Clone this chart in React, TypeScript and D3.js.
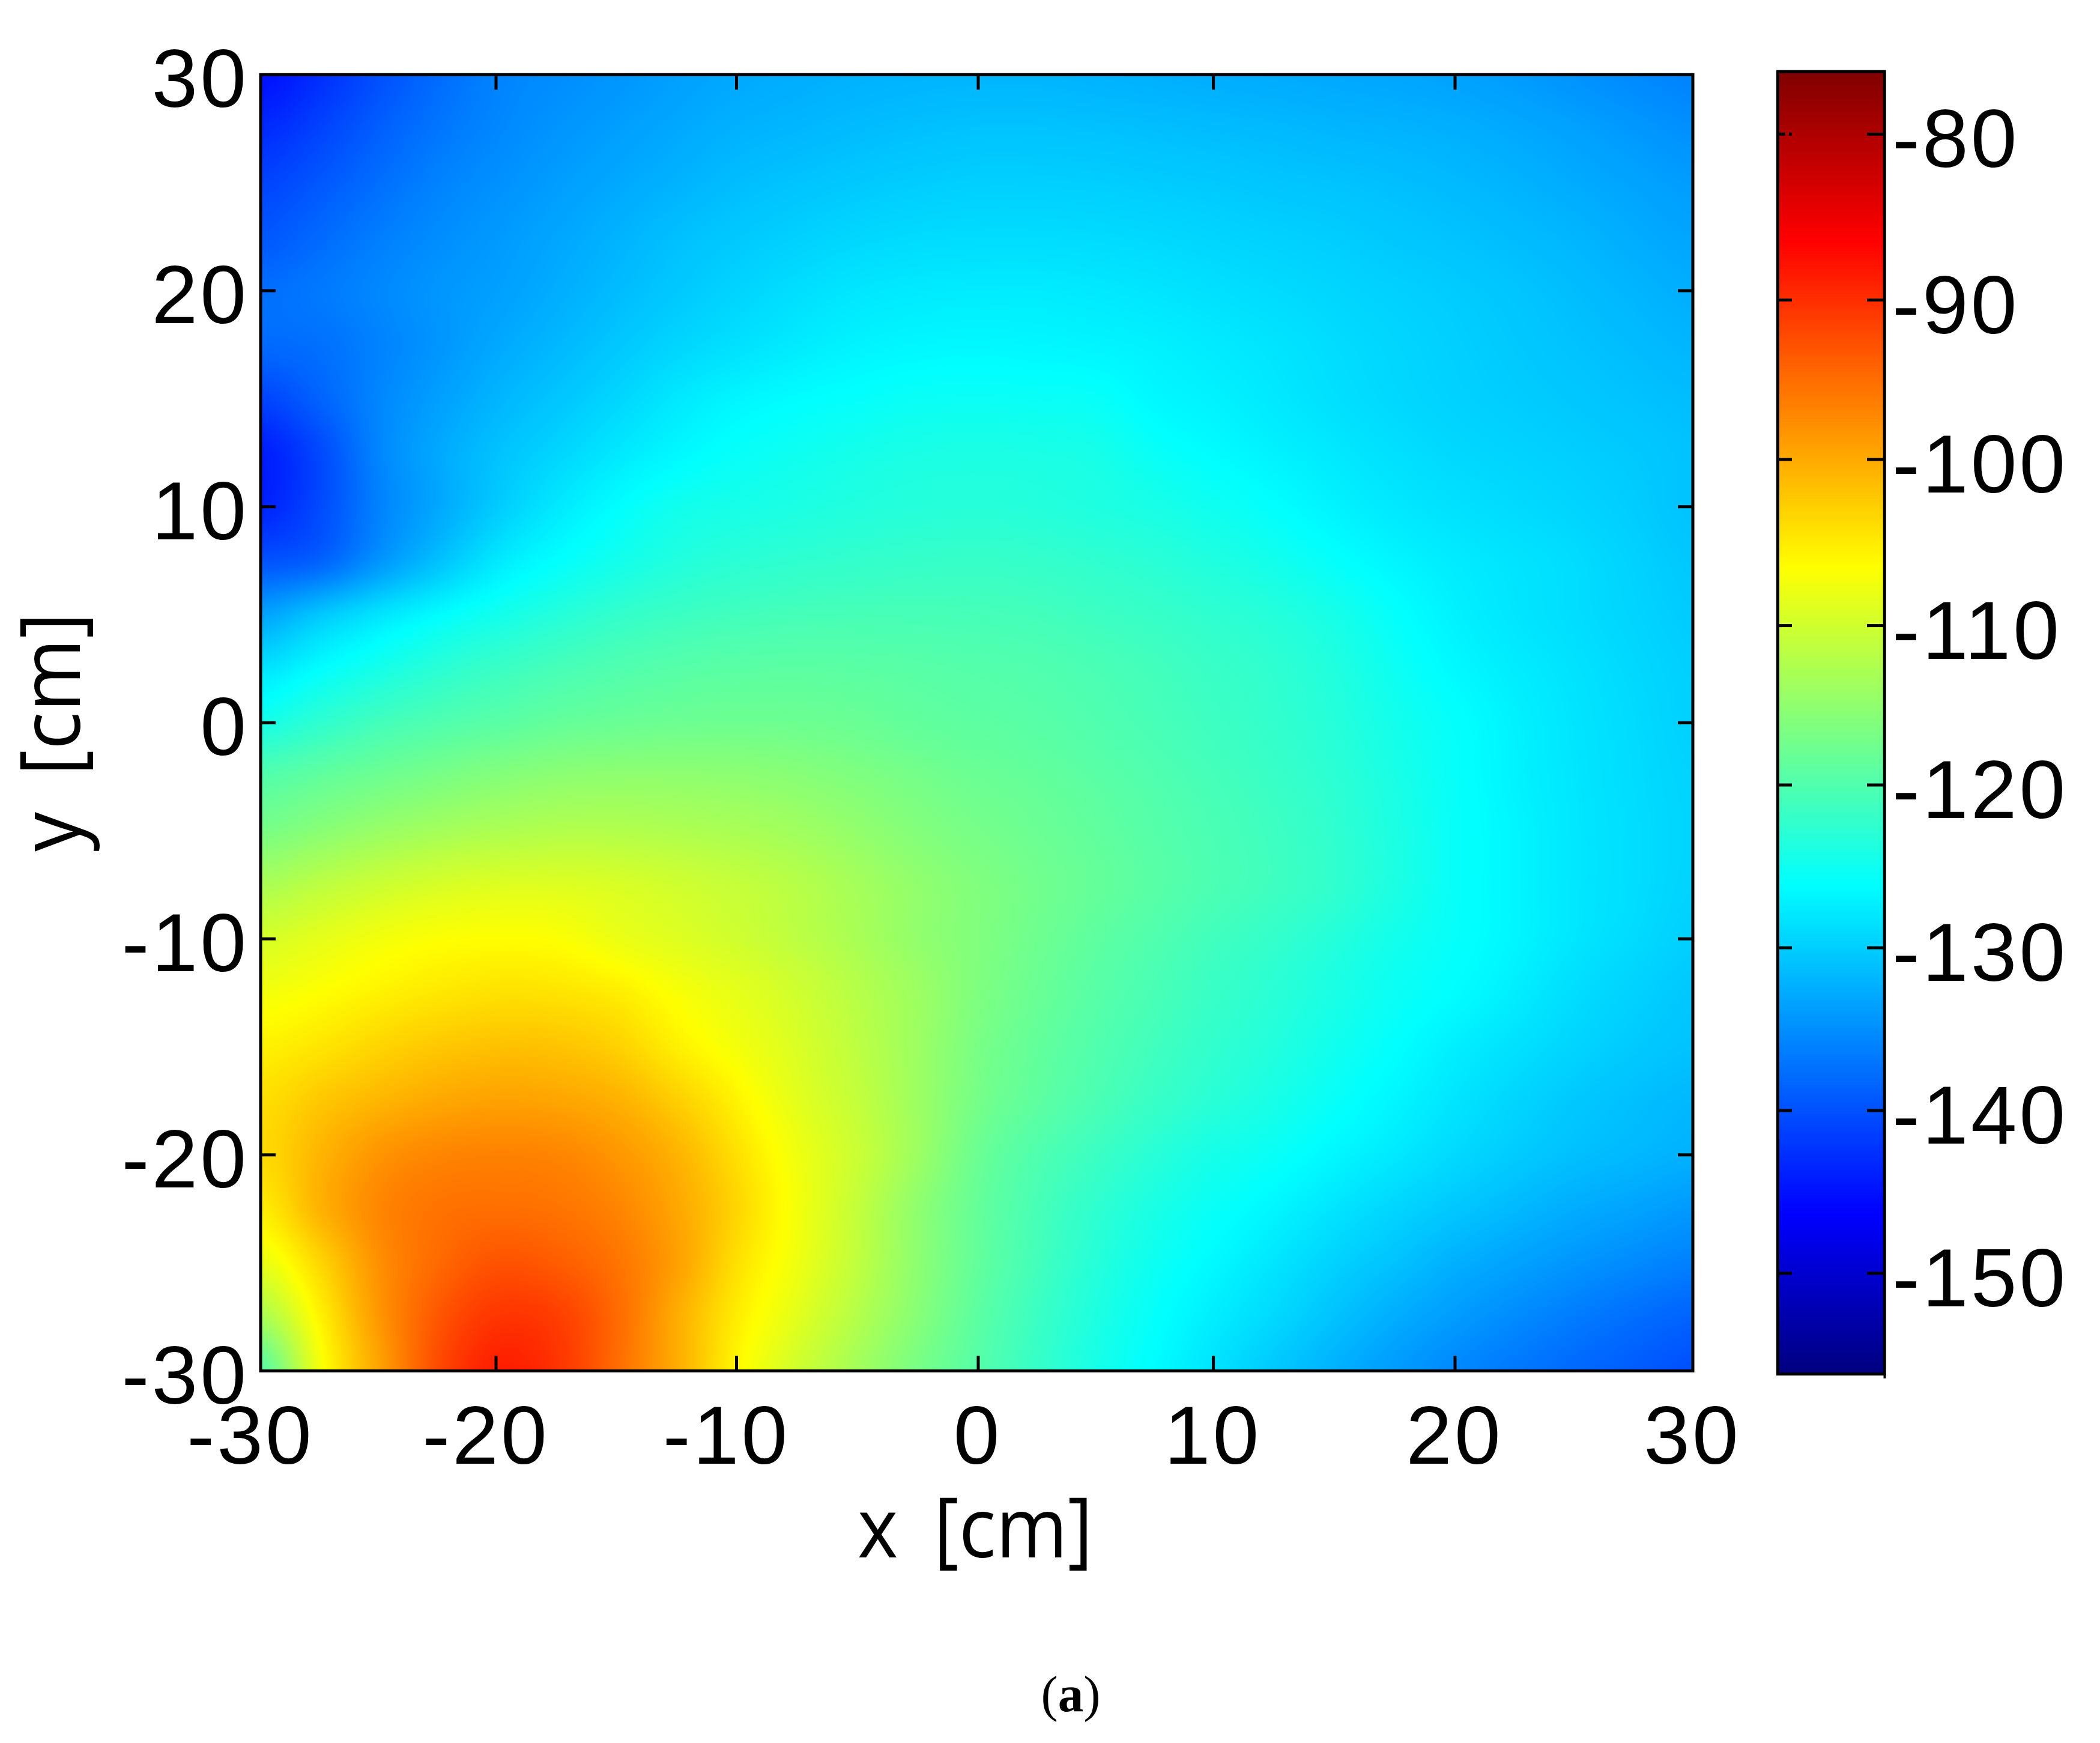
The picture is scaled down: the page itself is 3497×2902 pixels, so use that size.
import { useMemo } from "react"
import * as d3 from "d3"

const W = 3497
const H = 2902

// plot frame
const PLOT = { left: 434, right: 2819, top: 124.3, bottom: 2282.5 }

const xTicks = [-30, -20, -10, 0, 10, 20, 30]
const yTicks = [30, 20, 10, 0, -10, -20, -30]
const barTicks = [-80, -90, -100, -110, -120, -130, -140, -150]

// the source image has uneven pixel rows, so the ticks are not perfectly regular
const xTickPx = [434, 826, 1226.5, 1629, 2020.6, 2423, 2819]
const barTickPx = [223.3, 499.5, 765, 1041.6, 1307, 1578, 1849, 2120]

// jet colormap stops, in dB
const jetStops = [-156.3, -146.3, -126.3, -106.3, -86.3, -76.3]
const jetColors = ["#000080", "#0000ff", "#00ffff", "#ffff00", "#ff0000", "#800000"]
const jetBarPx = [2285, 2020, 1472, 944, 400, 121]

// field, every 2.5 cm. Rows y = 30 .. -30, columns x = -30 .. 30
const field: number[][] = [
  [-145, -142.6, -140, -137.8, -136, -135.2, -134.5, -133.7, -133, -132.6, -132.3, -132.1, -132, -132, -132.2, -132.4, -132.6, -132.8, -133, -133.2, -133.5, -134, -134.7, -135.4, -136],
  [-143, -141, -138.8, -137, -135.6, -134.6, -133.8, -133, -132.3, -131.9, -131.5, -131.2, -131, -131, -131.1, -131.3, -131.5, -131.7, -132, -132.2, -132.5, -133, -133.6, -134.3, -135],
  [-141, -139.4, -137.6, -136, -134.9, -133.9, -133, -132.2, -131.4, -130.9, -130.5, -130.2, -130, -130, -130.1, -130.3, -130.5, -130.8, -131, -131.3, -131.7, -132.2, -132.8, -133.4, -134],
  [-139.5, -138, -136.4, -135.2, -134.2, -133.2, -132.2, -131.2, -130.5, -129.9, -129.4, -129.1, -129, -129, -129.1, -129.3, -129.6, -129.9, -130.2, -130.6, -131, -131.5, -132, -132.7, -133.3],
  [-137.7, -136.8, -135.6, -134.5, -133.7, -132.6, -131.5, -130.5, -129.6, -128.8, -128.2, -127.9, -127.8, -127.8, -128, -128.3, -128.7, -129.1, -129.5, -129.9, -130.3, -130.8, -131.4, -132, -132.6],
  [-138, -137.5, -136, -134.5, -133, -131.8, -130.6, -129.5, -128.6, -127.8, -127.2, -126.9, -126.8, -126.9, -127.1, -127.4, -127.9, -128.4, -129, -129.5, -130, -130.5, -131, -131.5, -132],
  [-141, -138.5, -135.7, -133.7, -132, -130.7, -129.4, -128, -127, -126.4, -126, -125.6, -125.5, -125.6, -125.8, -126.8, -127.3, -128, -128.7, -129.3, -129.8, -130.2, -130.6, -131, -131.4],
  [-144, -140.5, -135.7, -133, -131, -129.5, -128, -126.8, -125.8, -125.2, -124.7, -124.3, -124.2, -124.3, -124.6, -125.7, -126.5, -127.3, -128, -128.7, -129.3, -129.7, -130.1, -130.5, -131],
  [-143.5, -140.4, -136, -133, -130.2, -127.9, -126.3, -125, -124.5, -124.1, -123.7, -123.4, -123.3, -123.5, -123.9, -124.4, -125.2, -126.2, -127.2, -128, -128.6, -129.1, -129.6, -130.2, -131],
  [-139.8, -138.5, -134.5, -131, -127.9, -126.1, -124.8, -123.7, -123, -122.6, -122.3, -122.1, -122, -122.2, -122.6, -123.1, -123.9, -124.9, -126, -127, -127.8, -128.4, -129, -129.8, -130.6],
  [-133.5, -130.6, -128.3, -126.4, -124.8, -123.4, -122.3, -121.6, -121.1, -120.8, -120.7, -120.7, -120.8, -121, -121.5, -122, -122.7, -123.5, -124.6, -126, -127.3, -128.2, -128.9, -129.6, -130.3],
  [-128.5, -126.3, -124.6, -123, -121.7, -120.7, -120, -119.5, -119.2, -119.1, -119.2, -119.4, -119.7, -120, -120.5, -121.1, -121.9, -122.7, -123.8, -125.3, -126.7, -127.7, -128.5, -129.3, -130],
  [-124.5, -122.6, -121, -120, -119.2, -118.4, -118, -117.7, -117.6, -117.7, -118, -118.6, -119, -119.4, -120, -120.7, -121.5, -122.4, -123.4, -124.8, -126, -127.3, -128.3, -129.1, -129.9],
  [-119.8, -118.6, -117.6, -116.7, -115.8, -115.2, -115, -115, -115.2, -115.6, -116.3, -117.1, -117.9, -118.5, -119.2, -120, -120.9, -121.9, -122.9, -124.3, -125.8, -127.2, -128.2, -129, -129.7],
  [-116.8, -115.5, -114.3, -113.4, -112.7, -112.3, -112.3, -112.6, -113, -113.7, -114.8, -116, -117, -117.9, -118.7, -119.6, -120.5, -121.5, -122.6, -124.1, -125.7, -127, -128.1, -128.9, -129.6],
  [-113, -111.5, -110.3, -109.4, -108.9, -108.9, -109.3, -110, -110.9, -112, -113.4, -114.9, -116.2, -117.4, -118.4, -119.4, -120.4, -121.4, -122.5, -124.1, -125.7, -127, -128.1, -128.9, -129.7],
  [-109.5, -108.3, -107.2, -106.5, -106.3, -106.5, -107.8, -108.8, -110, -111.5, -113, -114.8, -116.2, -117.6, -118.9, -120, -121.2, -122.3, -123.5, -124.8, -125.9, -127, -128.2, -129.1, -130],
  [-107.2, -106.3, -105.3, -104.5, -104, -104.2, -105, -106.8, -108.3, -110, -112, -114, -116.3, -118, -119.4, -120.6, -121.9, -123.1, -124.3, -125.5, -126.4, -127.6, -128.9, -129.8, -130.6],
  [-105.3, -104.3, -103, -102, -101.5, -101.7, -102.8, -105.2, -107.2, -109.2, -111.5, -114, -116.7, -118.5, -119.9, -121.2, -122.5, -123.7, -125, -126.2, -127.5, -128.6, -129.6, -130.4, -131],
  [-103.8, -102, -100.6, -99.5, -99, -99.3, -100.3, -102.6, -105.5, -108.5, -111, -114, -117, -118.9, -120.4, -121.9, -123.2, -124.5, -125.8, -127, -128.3, -129.5, -130.5, -131.2, -131.8],
  [-103.5, -100.5, -98, -96.8, -96.5, -96.8, -98.2, -100.5, -104, -107.5, -110.5, -114, -117.8, -120, -121.6, -123.2, -124.6, -125.7, -126.9, -128, -129.2, -130.3, -131.2, -131.8, -132.4],
  [-105, -100.3, -96.8, -95.3, -95, -95.4, -96.8, -99.5, -103.2, -107.2, -111, -115, -118.3, -120.6, -122.6, -124.3, -125.7, -127, -128.3, -129.5, -130.6, -131.7, -132.7, -133.4, -134.2],
  [-108, -103, -97.5, -94.5, -92.8, -93.6, -95.5, -99, -104, -107.6, -111.3, -115.2, -118.5, -121, -123.4, -125.3, -126.8, -128.3, -129.8, -131, -132.4, -133.5, -134.5, -135.4, -136.2],
  [-113, -105.3, -98, -93, -90.5, -91.3, -94.8, -100, -105, -108.6, -112.2, -115.7, -119, -121.6, -124, -126, -127.7, -129.3, -131, -132.6, -134, -135.3, -136.5, -137.6, -138.5],
  [-119.3, -107, -99, -92, -88.7, -90.5, -95, -100, -105.8, -110, -113.5, -116.8, -119.5, -122, -124.5, -126.5, -128.5, -130.5, -132.3, -134, -135.5, -136.8, -138, -139, -140],
]

const x = d3.scaleLinear().domain(xTicks).range(xTickPx)
const y = d3.scaleLinear().domain([30, -30]).range([PLOT.top, PLOT.bottom])
const barY = d3.scaleLinear().domain(barTicks).range(barTickPx)
const jet = d3.scaleLinear<string>().domain(jetStops).range(jetColors).clamp(true)
const jetY = d3.scaleLinear().domain(jetStops).range(jetBarPx)

const TICK_FONT = "'Liberation Sans', Arial, sans-serif"
const LABEL_FONT = "'Open Sans', sans-serif"

function catmull(a: number, b: number, c: number, d: number, t: number) {
  return 0.5 * (2 * b + (c - a) * t + (2 * a - 5 * b + 4 * c - d) * t * t + (3 * b - a - 3 * c + d) * t * t * t)
}

// interp shading: sample the value grid smoothly, then colour through the jet scale
function renderField(): string {
  const w = 1193
  const h = 1080
  const canvas = document.createElement("canvas")
  canvas.width = w
  canvas.height = h
  const ctx = canvas.getContext("2d")!
  const img = ctx.createImageData(w, h)

  const lo = jetStops[0]
  const hi = jetStops[jetStops.length - 1]
  const lut = d3.range(2048).map((i) => d3.rgb(jet(lo + ((hi - lo) * i) / 2047)))

  const rows = field.length
  const cols = field[0].length
  const at = (r: number, c: number) =>
    field[Math.max(0, Math.min(rows - 1, r))][Math.max(0, Math.min(cols - 1, c))]

  for (let py = 0; py < h; py++) {
    const fy = (py / (h - 1)) * (rows - 1)
    const r = Math.min(Math.floor(fy), rows - 2)
    const ty = fy - r
    for (let px = 0; px < w; px++) {
      const fx = (px / (w - 1)) * (cols - 1)
      const c = Math.min(Math.floor(fx), cols - 2)
      const tx = fx - c
      const v = catmull(
        catmull(at(r - 1, c - 1), at(r - 1, c), at(r - 1, c + 1), at(r - 1, c + 2), tx),
        catmull(at(r, c - 1), at(r, c), at(r, c + 1), at(r, c + 2), tx),
        catmull(at(r + 1, c - 1), at(r + 1, c), at(r + 1, c + 1), at(r + 1, c + 2), tx),
        catmull(at(r + 2, c - 1), at(r + 2, c), at(r + 2, c + 1), at(r + 2, c + 2), tx),
        ty
      )
      const k = Math.max(0, Math.min(2047, Math.round(((v - lo) / (hi - lo)) * 2047)))
      const col = lut[k]
      const i = (py * w + px) * 4
      img.data[i] = col.r
      img.data[i + 1] = col.g
      img.data[i + 2] = col.b
      img.data[i + 3] = 255
    }
  }
  ctx.putImageData(img, 0, 0)
  return canvas.toDataURL("image/png")
}

export default function App() {
  const href = useMemo(renderField, [])
  const barRows = d3.range(0, 512).map((i) => jetStops[0] + ((jetStops[5] - jetStops[0]) * i) / 512)
  const barStep = (jetStops[5] - jetStops[0]) / 512

  return (
    <svg
      width={W}
      height={H}
      viewBox={`0 0 ${W} ${H}`}
      style={{ position: "absolute", left: 0, top: 0, background: "#fff", display: "block" }}
    >
      <image
        href={href}
        x={PLOT.left}
        y={PLOT.top}
        width={PLOT.right - PLOT.left}
        height={PLOT.bottom - PLOT.top}
        preserveAspectRatio="none"
      />

      {/* ticks, inward on all four sides */}
      <g stroke="#000" strokeWidth={5}>
        {xTicks.slice(1, -1).map((t) => (
          <g key={t}>
            <line x1={x(t)} x2={x(t)} y1={PLOT.bottom} y2={PLOT.bottom - 25} />
            <line x1={x(t)} x2={x(t)} y1={PLOT.top} y2={PLOT.top + 25} />
          </g>
        ))}
        {yTicks.slice(1, -1).map((t) => (
          <g key={t}>
            <line x1={PLOT.left} x2={PLOT.left + 25} y1={y(t)} y2={y(t)} />
            <line x1={PLOT.right} x2={PLOT.right - 25} y1={y(t)} y2={y(t)} />
          </g>
        ))}
      </g>
      <rect
        x={PLOT.left}
        y={PLOT.top}
        width={PLOT.right - PLOT.left}
        height={PLOT.bottom - PLOT.top}
        fill="none"
        stroke="#000"
        strokeWidth={5}
      />

      {/* tick labels */}
      <g fontFamily={TICK_FONT} fontSize={138} letterSpacing={4} fill="#000">
        {xTicks.map((t) => (
          <text key={t} x={x(t) + (t < 0 ? -17 : -1)} y={2437} textAnchor="middle">
            {t}
          </text>
        ))}
        {yTicks.map((t) => (
          <text key={t} x={414} y={y(t) + 54} textAnchor="end">
            {t}
          </text>
        ))}
        {barTicks.map((t) => (
          <text key={t} x={3151} y={barY(t) + 55}>
            {t}
          </text>
        ))}
      </g>

      {/* axis titles */}
      <text
        x={1428}
        y={2592.5}
        fontFamily={LABEL_FONT}
        fontSize={140}
        wordSpacing={28}
        textLength={392}
        lengthAdjust="spacingAndGlyphs"
        fill="#000"
      >
        x [cm]
      </text>
      <text
        transform={`translate(133, 1418) rotate(-90)`}
        fontFamily={LABEL_FONT}
        fontSize={140}
        wordSpacing={28}
        textLength={398}
        lengthAdjust="spacingAndGlyphs"
        fill="#000"
      >
        y [cm]
      </text>

      {/* colorbar */}
      {barRows.map((v) => (
        <rect
          key={v}
          x={2960.5}
          y={jetY(v + barStep)}
          width={177.5}
          height={jetY(v) - jetY(v + barStep) + 1}
          fill={jet(v + barStep / 2)}
        />
      ))}
      <g stroke="#000" strokeWidth={5}>
        {barTicks.map((t) => (
          <g key={t}>
            <line
              x1={2962}
              x2={2984}
              y1={barY(t)}
              y2={barY(t)}
              strokeDasharray={t === -80 ? "11 6 5 100" : undefined}
            />
            <line x1={3109} x2={3136} y1={barY(t)} y2={barY(t)} />
          </g>
        ))}
      </g>
      <rect x={2960.5} y={119.2} width={177.7} height={2168.5} fill="none" stroke="#000" strokeWidth={5} />
      <line x1={3138.5} x2={3138.5} y1={2287} y2={2295} stroke="#000" strokeWidth={4} />

      {/* panel letter */}
      <text x={1783} y={2849} textAnchor="middle" fontFamily="'Liberation Serif', serif" fontSize={85} fill="#000">
        (<tspan fontWeight="bold">a</tspan>)
      </text>
    </svg>
  )
}
